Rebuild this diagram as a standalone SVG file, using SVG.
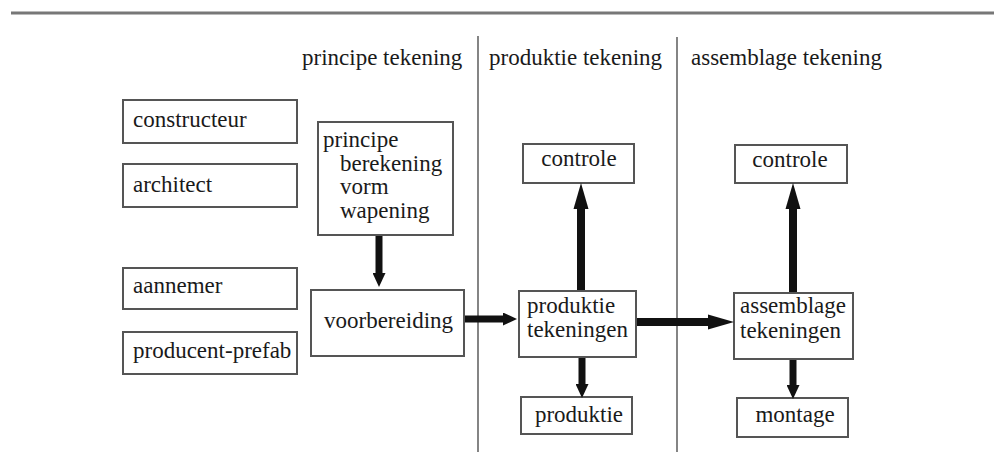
<svg xmlns="http://www.w3.org/2000/svg" width="994" height="468" viewBox="0 0 994 468" font-family="Liberation Serif, DejaVu Serif, serif">
  <style>
    .box { fill: #ffffff; stroke: #555555; stroke-width: 2; }
    .t { font-family: "Liberation Serif", "DejaVu Serif", serif; font-size: 23px; fill: #1a1a1a; }
    .c { text-anchor: middle; }
    .rule { stroke: #777777; stroke-width: 3; }
    .div { stroke: #666666; stroke-width: 1.6; }
    .arr { stroke: #111111; fill: none; }
  </style>
  <defs>
    <marker id="head" markerUnits="userSpaceOnUse" markerWidth="26" markerHeight="16" refX="0" refY="8" orient="auto">
      <path d="M0,0.5 L26,8 L0,15.5 z" fill="#111111"/>
    </marker>
    <marker id="headS" markerUnits="userSpaceOnUse" markerWidth="14" markerHeight="13" refX="0" refY="6.5" orient="auto">
      <path d="M0,0 L14,6.5 L0,13 z" fill="#111111"/>
    </marker>
  </defs>
  <rect width="994" height="468" fill="#ffffff"/>

  <g id="frame">
    <line class="rule" x1="11" y1="13" x2="994" y2="13"/>
    <line class="div" x1="478" y1="36" x2="478" y2="452"/>
    <line class="div" x1="677" y1="37" x2="677" y2="452"/>
    <text class="t" x="302" y="65">principe tekening</text>
    <text class="t" x="489" y="65">produktie tekening</text>
    <text class="t" x="691" y="65">assemblage tekening</text>
  </g>

  <g id="constructeur">
    <rect class="box" x="123" y="100" width="174" height="43"/>
    <text class="t" x="133" y="127">constructeur</text>
  </g>
  <g id="architect">
    <rect class="box" x="123" y="164" width="174" height="43"/>
    <text class="t" x="133" y="192">architect</text>
  </g>
  <g id="aannemer">
    <rect class="box" x="123" y="268" width="174" height="41"/>
    <text class="t" x="133" y="293">aannemer</text>
  </g>
  <g id="producent-prefab">
    <rect class="box" x="123" y="332" width="174" height="42"/>
    <text class="t" x="133" y="358">producent-prefab</text>
  </g>

  <g id="principe">
    <rect class="box" x="318" y="122" width="135" height="113"/>
    <text class="t" x="323" y="147">principe</text>
    <text class="t" x="340" y="171">berekening</text>
    <text class="t" x="340" y="194">vorm</text>
    <text class="t" x="340" y="218">wapening</text>
  </g>
  <g id="voorbereiding">
    <rect class="box" x="311" y="290" width="153" height="66"/>
    <text class="t" x="324" y="328">voorbereiding</text>
  </g>

  <g id="controle1">
    <rect class="box" x="523" y="144" width="111" height="39"/>
    <text class="t c" x="579" y="166">controle</text>
  </g>
  <g id="produktie-tekeningen">
    <rect class="box" x="519" y="291" width="117" height="66"/>
    <text class="t" x="527" y="313">produktie</text>
    <text class="t" x="527" y="337">tekeningen</text>
  </g>
  <g id="produktie">
    <rect class="box" x="521" y="397" width="111" height="37"/>
    <text class="t c" x="579" y="422">produktie</text>
  </g>

  <g id="controle2">
    <rect class="box" x="735" y="145" width="112" height="38"/>
    <text class="t c" x="790" y="167">controle</text>
  </g>
  <g id="assemblage-tekeningen">
    <rect class="box" x="734" y="293" width="119" height="66"/>
    <text class="t" x="740" y="313">assemblage</text>
    <text class="t" x="740" y="338">tekeningen</text>
  </g>
  <g id="montage">
    <rect class="box" x="737" y="398" width="111" height="39"/>
    <text class="t c" x="795" y="422">montage</text>
  </g>

  <g id="connectors">
    <line class="arr" x1="379" y1="236" x2="379" y2="273" stroke-width="7" marker-end="url(#headS)"/>
    <line class="arr" x1="465" y1="319" x2="503" y2="319" stroke-width="7" marker-end="url(#headS)"/>
    <line class="arr" x1="581" y1="290" x2="581" y2="209" stroke-width="8" marker-end="url(#head)"/>
    <line class="arr" x1="582" y1="358" x2="582" y2="384" stroke-width="7" marker-end="url(#headS)"/>
    <line class="arr" x1="637" y1="322" x2="708" y2="322" stroke-width="8" marker-end="url(#head)"/>
    <line class="arr" x1="793" y1="292" x2="793" y2="209" stroke-width="8" marker-end="url(#head)"/>
    <line class="arr" x1="793" y1="360" x2="793" y2="385" stroke-width="7" marker-end="url(#headS)"/>
  </g>
</svg>
